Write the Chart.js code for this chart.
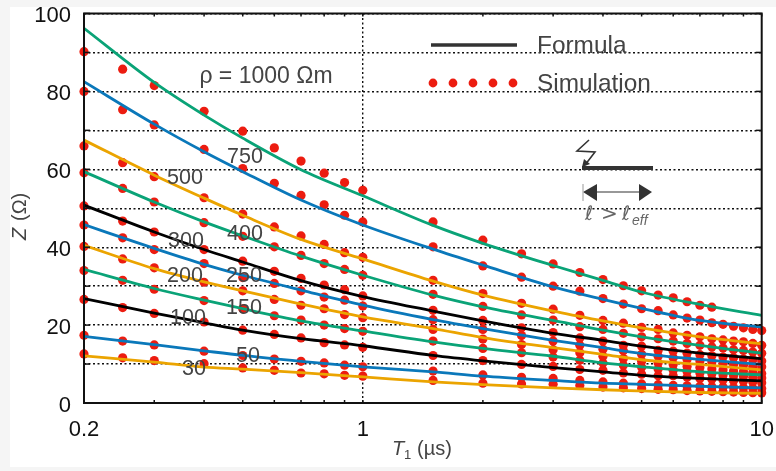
<!DOCTYPE html>
<html>
<head>
<meta charset="utf-8">
<style>
	html, body { margin: 0; padding: 0; background: #f5f5f5; }
	body { width: 776px; height: 471px; overflow: hidden; position: relative; }
	#card { position: absolute; left: 10px; top: 7px; width: 766px; height: 460px; background: #fff; }
	#chartPreview { position: absolute; left: 0; top: 0; }
</style>
<script src="https://cdn.jsdelivr.net/npm/chart.js@4"></script>
</head>
<body>
<div id="card"></div>
<canvas id="chartPreview" width="776" height="471"></canvas>
<script>
'use strict';

// T1 values of the simulation dots and of the read-off formula curves
const simT = [0.2, 0.25, 0.3, 0.4, 0.5, 0.6, 0.7, 0.8, 0.9, 1, 1.5, 2, 2.5, 3, 3.5, 4, 4.5, 5, 5.5, 6, 6.5, 7, 7.5, 8, 8.5, 9, 9.5, 10];
const formulaT = [0.2, 0.3, 0.4, 0.5, 0.7, 1, 1.5, 2, 3, 4, 5, 7, 10];

const rhoNames = ['1000', '750', '500', '400', '300', '250', '200', '150', '100', '50', '30'];

const sim1000 = [90.2, 85.7, 81.5, 74.9, 69.8, 65.5, 62.1, 59.0, 56.6, 54.6, 46.5, 41.8, 38.3, 35.7, 33.5, 31.7, 30.1, 28.8, 27.7, 27.0, 26.0, 25.1, 24.6];
const sim750 = [80.0, 75.3, 71.4, 65.1, 60.2, 56.4, 53.3, 50.9, 48.2, 46.5, 40.1, 35.2, 32.3, 30.0, 28.7, 26.8, 25.4, 24.2, 23.7, 22.6, 21.8, 21.3, 20.6, 20.2, 19.7, 19.3, 18.9, 18.6];
const sim500 = [66.0, 61.7, 58.1, 52.7, 48.5, 45.2, 42.9, 40.7, 38.6, 37.4, 31.5, 28.1, 25.6, 24.1, 22.5, 21.2, 20.5, 19.4, 18.9, 18.0, 17.4, 17.0, 16.5, 16.2, 15.9, 15.7, 15.3, 14.8];
const sim400 = [59.1, 55.1, 51.6, 46.3, 42.8, 40.1, 37.9, 35.8, 34.3, 32.8, 27.9, 24.8, 22.6, 21.3, 19.6, 18.9, 17.9, 17.0, 16.5, 15.9, 15.3, 14.8, 14.4, 14.1, 13.7, 13.5, 13.1, 12.8];
const sim300 = [50.6, 46.7, 43.9, 39.4, 36.4, 33.8, 32.0, 30.3, 29.1, 27.5, 23.8, 21.2, 19.3, 18.1, 16.7, 15.9, 14.8, 14.6, 13.5, 13.3, 12.8, 12.4, 12.1, 11.8, 11.6, 11.3, 11.1, 10.8];
const sim250 = [45.7, 42.4, 39.4, 35.8, 32.2, 30.7, 28.8, 27.2, 26.4, 24.9, 21.4, 18.9, 17.3, 15.9, 14.8, 13.8, 13.4, 12.5, 12.0, 11.6, 11.2, 10.8, 10.5, 10.2, 9.9, 9.7, 9.4, 9.3];
const sim200 = [40.2, 37.0, 34.7, 31.0, 28.8, 26.6, 25.1, 24.2, 22.7, 21.9, 18.9, 16.4, 15.0, 13.7, 12.9, 12.0, 11.4, 10.7, 10.3, 9.9, 9.4, 9.1, 8.7, 8.5, 8.2, 8.1, 7.8, 7.6];
const sim150 = [34.0, 31.5, 29.2, 26.3, 24.2, 22.4, 21.3, 20.0, 19.1, 18.4, 15.9, 14.0, 12.9, 11.8, 11.0, 10.3, 9.7, 9.2, 8.7, 8.4, 8.1, 7.7, 7.5, 7.2, 7.0, 6.8, 6.6, 6.4];
const sim100 = [26.6, 24.5, 23.0, 20.8, 18.7, 17.6, 16.7, 15.5, 14.9, 14.3, 12.2, 10.9, 9.9, 9.4, 8.6, 8.4, 7.7, 7.4, 7.0, 7.0, 6.6, 6.3, 6.1, 5.9, 5.7, 5.6, 5.4, 5.2];
const sim50 = [17.4, 15.9, 14.9, 13.3, 12.2, 11.3, 10.7, 10.3, 9.7, 9.3, 8.2, 7.2, 6.6, 6.3, 5.8, 5.4, 5.1, 4.9, 4.7, 4.5, 4.4, 4.3, 4.2, 4.1, 4.0, 3.9, 3.8, 3.7];
const sim30 = [12.6, 11.6, 10.9, 10.1, 9.0, 8.4, 7.7, 7.5, 7.1, 6.9, 5.8, 5.1, 4.9, 4.8, 4.5, 4.1, 3.9, 3.7, 3.5, 3.4, 3.2, 3.1, 3.0, 2.9, 2.8, 2.7, 2.65, 2.6];

const formula1000 = [96.2, 82.3, 73.9, 68.0, 59.9, 53.2, 45.6, 41.0, 35.3, 31.5, 28.5, 25.3, 22.5];
const formula750 = [82.5, 71.6, 64.5, 59.4, 52.1, 45.7, 39.5, 35.4, 29.8, 26.6, 24.3, 21.2, 19.5];
const formula500 = [67.5, 58.5, 52.6, 48.2, 42.0, 37.0, 31.3, 27.7, 23.6, 21.1, 19.3, 17.0, 15.2];
const formula400 = [59.4, 51.6, 46.5, 42.9, 37.7, 32.8, 27.7, 24.7, 21.2, 18.7, 17.0, 14.8, 12.8];
const formula300 = [50.8, 43.9, 39.4, 36.2, 31.4, 27.3, 23.6, 21.1, 17.9, 16.1, 14.6, 12.8, 11.4];
const formula250 = [45.8, 39.7, 35.6, 32.8, 29.0, 25.1, 21.4, 19.1, 16.1, 14.2, 12.7, 11.2, 9.9];
const formula200 = [40.5, 34.5, 31.1, 28.8, 25.4, 22.1, 19.1, 16.8, 14.2, 12.5, 11.1, 9.9, 8.5];
const formula150 = [34.3, 29.4, 26.4, 24.2, 21.1, 18.5, 15.7, 14.0, 12.0, 10.3, 9.3, 8.0, 7.2];
const formula100 = [26.8, 23.1, 20.6, 18.7, 16.5, 14.7, 12.2, 10.8, 9.1, 8.0, 7.1, 6.3, 5.7];
const formula50 = [17.1, 15.0, 13.4, 12.2, 10.7, 9.3, 8.0, 6.9, 5.8, 5.1, 4.8, 4.3, 3.9];
const formula30 = [12.1, 10.5, 9.2, 8.7, 7.8, 6.7, 5.4, 4.7, 3.9, 3.4, 3.1, 2.7, 2.5];

const simValues = [sim1000, sim750, sim500, sim400, sim300, sim250, sim200, sim150, sim100, sim50, sim30];
const formulaValues = [formula1000, formula750, formula500, formula400, formula300, formula250, formula200, formula150, formula100, formula50, formula30];

const xTicks = [0.2, 0.3, 0.4, 0.5, 0.6, 0.7, 0.8, 0.9, 1, 2, 3, 4, 5, 6, 7, 8, 9, 10];
const xLabels = [0.2, 1, 10];

const GREEN = '#0aa377';
const BLUE = '#0a78ba';
const ORANGE = '#eba400';
const BLACK = '#000000';
const RED = '#ec1c10';
const INK = '#444444';
const lineColors = [GREEN, BLUE, ORANGE, GREEN, BLACK, BLUE, ORANGE, GREEN, BLACK, BLUE, ORANGE];

const pairs = function (xs, ys) {
	return ys.map(function (y, i) { return { x: xs[i], y: y }; });
};

const datasets = [];
rhoNames.forEach(function (name, i) {
	datasets.push({
		label: 'Simulation ' + name,
		data: pairs(simT, simValues[i]),
		showLine: false,
		pointRadius: 4.6,
		pointBackgroundColor: RED,
		pointBorderWidth: 0,
		clip: false,
		order: 2
	});
});
rhoNames.forEach(function (name, i) {
	datasets.push({
		label: 'Formula ' + name,
		data: pairs(formulaT, formulaValues[i]),
		showLine: true,
		cubicInterpolationMode: 'monotone',
		borderColor: lineColors[i],
		borderWidth: 2.8,
		pointRadius: 0,
		order: 1
	});
});

// curve labels: text, centre x, centre y in canvas pixels
const curveLabels = [
	['750', 245, 157.5], ['500', 185, 178.5], ['400', 245, 234.5], ['300', 186, 241.5],
	['250', 244, 276.5], ['200', 185, 276.5], ['150', 244, 308.5], ['100', 188, 318.5],
	['50', 248, 356.5], ['30', 194, 369.5]
];

const drawLine = function (ctx, x1, y1, x2, y2) {
	ctx.beginPath();
	ctx.moveTo(x1, y1);
	ctx.lineTo(x2, y2);
	ctx.stroke();
};

const drawTri = function (ctx, x1, y1, x2, y2, x3, y3) {
	ctx.beginPath();
	ctx.moveTo(x1, y1);
	ctx.lineTo(x2, y2);
	ctx.lineTo(x3, y3);
	ctx.closePath();
	ctx.fill();
};

const frameAndNotes = {
	id: 'frameAndNotes',
	afterDatasetsDraw: function (chart) {
		const ctx = chart.ctx;
		const a = chart.chartArea;
		const sx = chart.scales.x;
		const sy = chart.scales.y;
		ctx.save();

		// inward ticks
		ctx.strokeStyle = '#111';
		ctx.lineWidth = 1.5;
		xTicks.forEach(function (t) {
			const px = sx.getPixelForValue(t);
			drawLine(ctx, px, a.top, px, a.top + 3);
			drawLine(ctx, px, a.bottom, px, a.bottom - 3);
		});
		sy.ticks.forEach(function (t) {
			const py = sy.getPixelForValue(t.value);
			drawLine(ctx, a.left, py, a.left + 6, py);
			drawLine(ctx, a.right, py, a.right - 6, py);
		});

		// frame
		ctx.lineWidth = 2;
		ctx.strokeRect(a.left, a.top, a.right - a.left, a.bottom - a.top);

		// curve labels
		ctx.fillStyle = INK;
		ctx.textAlign = 'center';
		ctx.textBaseline = 'middle';
		ctx.font = '21.5px "Liberation Sans"';
		curveLabels.forEach(function (l) {
			ctx.fillText(l[0], l[1], l[2]);
		});
		ctx.font = '23px "Liberation Sans"';
		ctx.fillText('\u03C1 = 1000 \u03A9m', 266, 77);

		// legend
		ctx.textAlign = 'left';
		ctx.font = '24.4px "Liberation Sans"';
		ctx.fillText('Formula', 537, 46);
		ctx.fillText('Simulation', 537, 84);
		ctx.strokeStyle = '#333';
		ctx.lineWidth = 3.4;
		drawLine(ctx, 431, 45, 517, 45);
		ctx.fillStyle = RED;
		[433, 453, 473, 493, 513].forEach(function (px) {
			ctx.beginPath();
			ctx.arc(px, 83, 4.4, 0, Math.PI * 2);
			ctx.fill();
		});

		// inset: struck wire
		ctx.strokeStyle = '#333';
		ctx.fillStyle = '#333';
		ctx.lineWidth = 1.6;
		ctx.beginPath();
		ctx.moveTo(589, 140);
		ctx.lineTo(577, 151);
		ctx.lineTo(595, 152);
		ctx.lineTo(585, 165);
		ctx.stroke();
		drawTri(ctx, 582, 167, 584, 159, 590, 164);
		ctx.lineWidth = 4;
		drawLine(ctx, 582, 168, 653, 168);
		ctx.lineWidth = 1.2;
		drawLine(ctx, 590, 192, 646, 192);
		drawTri(ctx, 583, 192, 597, 184, 597, 201);
		drawTri(ctx, 652, 192, 639, 184, 639, 201);
		ctx.strokeStyle = '#999';
		ctx.lineWidth = 1;
		drawLine(ctx, 583, 184, 583, 201);
		ctx.fillStyle = '#666';
		ctx.font = 'italic 20px "DejaVu Sans"';
		ctx.fillText('\u2113', 585, 215);
		ctx.font = '20px "DejaVu Sans"';
		ctx.fillText('>', 601, 215);
		ctx.font = 'italic 20px "DejaVu Sans"';
		ctx.fillText('\u2113', 622, 215);
		ctx.font = 'italic 14px "Liberation Sans"';
		ctx.fillText('eff', 632, 221);

		// axis titles
		ctx.fillStyle = INK;
		ctx.font = 'italic 20px "Liberation Sans"';
		ctx.fillText('T', 392, 449);
		ctx.font = '13px "Liberation Sans"';
		ctx.fillText('1', 404, 455);
		ctx.font = '20px "Liberation Sans"';
		ctx.fillText('(\u00B5s)', 417, 449);

		ctx.translate(20, 215);
		ctx.rotate(-Math.PI / 2);
		ctx.textAlign = 'left';
		ctx.font = 'italic 20px "Liberation Sans"';
		ctx.fillText('Z', -25, 0);
		ctx.font = '20px "Liberation Sans"';
		ctx.fillText('(\u03A9)', -6, 0);
		ctx.restore();
	}
};

const chart = new Chart(document.getElementById('chartPreview').getContext('2d'), {
	type: 'scatter',
	data: { datasets: datasets },
	plugins: [frameAndNotes],
	options: {
		responsive: false,
		animation: false,
		layout: { padding: { top: 13.5, right: 14.3 } },
		plugins: {
			legend: { display: false },
			tooltip: { enabled: false }
		},
		scales: {
			x: {
				type: 'logarithmic',
				min: 0.2,
				max: 10,
				afterBuildTicks: function (scale) {
					scale.ticks = xTicks.map(function (v) { return { value: v }; });
				},
				afterFit: function (scale) {
					scale.height = 68;
					scale.paddingLeft = 0;
					scale.paddingRight = 0;
				},
				grid: {
					drawTicks: false,
					lineWidth: 1.4,
					color: function (c) {
						return c.tick && c.tick.value === 1 ? '#111' : 'rgba(0,0,0,0)';
					}
				},
				border: { display: false, dash: [2, 2.5] },
				ticks: {
					autoSkip: false,
					maxRotation: 0,
					padding: 14,
					color: '#111',
					font: { family: '"Liberation Sans"', size: 22 },
					callback: function (v) {
						return xLabels.indexOf(v) >= 0 ? String(v) : '';
					}
				}
			},
			y: {
				min: 0,
				max: 100,
				afterFit: function (scale) {
					scale.width = 84;
					scale.paddingTop = 0;
					scale.paddingBottom = 0;
				},
				grid: { drawTicks: false, color: '#111', lineWidth: 1.4 },
				border: { display: false, dash: [2, 2.5] },
				ticks: {
					stepSize: 10,
					autoSkip: false,
					padding: 13,
					labelOffset: 2.5,
					color: '#111',
					font: { family: '"Liberation Sans"', size: 22 },
					callback: function (v) {
						return v % 20 === 0 ? String(v) : '';
					}
				}
			}
		}
	}
});
</script>
</body>
</html>
